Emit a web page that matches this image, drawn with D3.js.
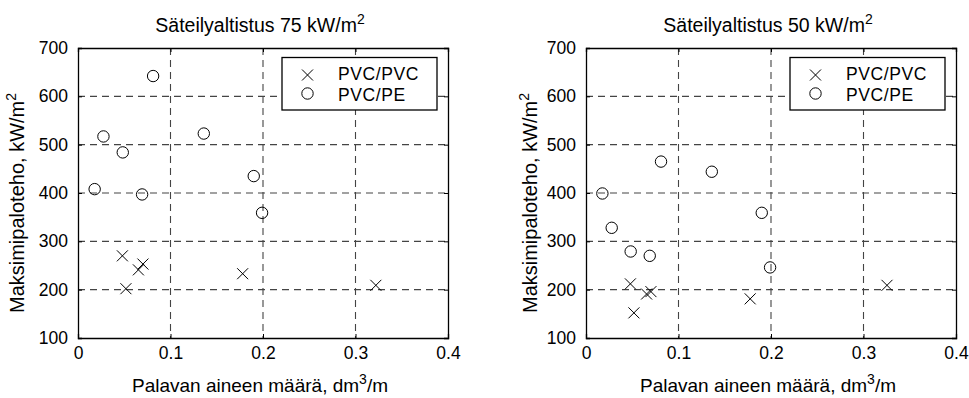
<!DOCTYPE html>
<html><head><meta charset="utf-8">
<script src="https://cdn.jsdelivr.net/npm/d3@7"></script>
<style>
body{margin:0;background:#fff;}
text{font-family:"Liberation Sans",Arial,Helvetica,sans-serif;fill:#000;}
</style></head>
<body>
<svg id="chart" width="969" height="398"></svg>
<script>
// ---- data ----
const xTicks = [0, 0.1, 0.2, 0.3, 0.4];
const yTicks = [100, 200, 300, 400, 500, 600, 700];
const seriesNames = ["PVC/PVC", "PVC/PE"];
const titles75 = "Säteilyaltistus 75 kW/m";
const titles50 = "Säteilyaltistus 50 kW/m";

// 75 kW/m2
const pvcpvc75_x = [0.048, 0.0518, 0.0653, 0.0702, 0.178, 0.322];
const pvcpvc75_y = [270, 202, 241, 253, 233, 209];
const pvcpe75_x = [0.018, 0.0275, 0.0484, 0.0693, 0.0812, 0.136, 0.190, 0.199];
const pvcpe75_y = [408, 517, 484, 397, 642, 523, 435, 359];

// 50 kW/m2
const pvcpvc50_x = [0.048, 0.0518, 0.0655, 0.0702, 0.1775, 0.3254];
const pvcpvc50_y = [212, 152, 191, 196, 181, 209];
const pvcpe50_x = [0.0177, 0.0278, 0.0483, 0.0689, 0.0811, 0.136, 0.190, 0.199];
const pvcpe50_y = [399, 328, 279, 270, 465, 444, 359, 246];

const svg = d3.select("#chart");
const crossPath = "M-5.5,-5.5L5.5,5.5M-5.5,5.5L5.5,-5.5";

function panel(left, data, title, ylabX) {
  const W = 370, top = 48, H = 290;
  const x = d3.scaleLinear().domain([0, 0.4]).range([left, left + W]);
  const y = d3.scaleLinear().domain([100, 700]).range([top + H, top]);
  const g = svg.append("g");

  // grid
  g.append("g").selectAll("line").data(xTicks.slice(1, -1)).join("line")
    .attr("x1", d => x(d)).attr("x2", d => x(d)).attr("y1", top).attr("y2", top + H)
    .attr("stroke", "#444").attr("stroke-width", 1.1).attr("stroke-dasharray", "7,5");
  g.append("g").selectAll("line").data(yTicks.slice(1, -1)).join("line")
    .attr("y1", d => y(d)).attr("y2", d => y(d)).attr("x1", left).attr("x2", left + W)
    .attr("stroke", "#444").attr("stroke-width", 1.1).attr("stroke-dasharray", "7,5");

  // axes
  const xa = g.append("g").attr("transform", `translate(0,${top + H})`)
    .call(d3.axisBottom(x).tickValues(xTicks).tickSize(-4).tickPadding(9).tickFormat(d => d === 0 ? "0" : d3.format(".1f")(d)));
  const xaTop = g.append("g").attr("transform", `translate(0,${top})`)
    .call(d3.axisTop(x).tickValues(xTicks).tickSize(-4).tickFormat(""));
  const ya = g.append("g").attr("transform", `translate(${left},0)`)
    .call(d3.axisLeft(y).tickValues(yTicks).tickSize(-4).tickPadding(10).tickFormat(d3.format("d")));
  const yaR = g.append("g").attr("transform", `translate(${left + W},0)`)
    .call(d3.axisRight(y).tickValues(yTicks).tickSize(-4).tickFormat(""));
  [xa, xaTop, ya, yaR].forEach(a => {
    a.select(".domain").attr("stroke", "#000").attr("stroke-width", 1.3);
    a.selectAll(".tick line").attr("stroke", "#000");
    a.selectAll("text").style("font-size", "17.5px").attr("fill", "#000");
  });

  // markers
  const pvc = data.pvcx.map((v, i) => [v, data.pvcy[i]]);
  const pe = data.pex.map((v, i) => [v, data.pey[i]]);
  g.append("g").selectAll("path").data(pvc).join("path")
    .attr("d", crossPath).attr("transform", d => `translate(${x(d[0])},${y(d[1])})`)
    .attr("fill", "none").attr("stroke", "#000").attr("stroke-width", 1);
  g.append("g").selectAll("circle").data(pe).join("circle")
    .attr("cx", d => x(d[0])).attr("cy", d => y(d[1])).attr("r", 5.7)
    .attr("fill", "none").attr("stroke", "#000").attr("stroke-width", 1);

  // legend
  const lg = g.append("g");
  const lx = left + 204, ly = 57.5;
  lg.append("rect").attr("x", lx).attr("y", ly).attr("width", 155).attr("height", 52.5)
    .attr("fill", "#fff").attr("stroke", "#000").attr("stroke-width", 1.3);
  lg.append("path").attr("d", crossPath).attr("transform", `translate(${lx + 25.5},${ly + 17.5})`)
    .attr("fill", "none").attr("stroke", "#000");
  lg.append("circle").attr("cx", lx + 25.5).attr("cy", ly + 36).attr("r", 5.7)
    .attr("fill", "none").attr("stroke", "#000");
  lg.append("text").attr("x", lx + 56).attr("y", ly + 22.5).style("font-size", "17.5px")
    .style("letter-spacing", "0.6px").text(seriesNames[0]);
  lg.append("text").attr("x", lx + 56).attr("y", ly + 43).style("font-size", "17.5px")
    .style("letter-spacing", "0.6px").text(seriesNames[1]);

  // title
  const t = g.append("text").attr("x", left + W / 2 - 3).attr("y", 32).attr("text-anchor", "middle")
    .style("font-size", "19.5px");
  t.append("tspan").text(title);
  t.append("tspan").attr("dy", -8).style("font-size", "14px").text("2");

  // x label
  const xl = g.append("text").attr("x", left + W / 2 - 3).attr("y", 392).attr("text-anchor", "middle")
    .style("font-size", "19px");
  xl.append("tspan").text("Palavan aineen määrä, dm");
  xl.append("tspan").attr("dy", -8).style("font-size", "14px").text("3");
  xl.append("tspan").attr("dy", 8).text("/m");

  // y label
  const yl = g.append("text").attr("transform", `translate(${ylabX},${top + H / 2 + 10}) rotate(-90)`)
    .attr("text-anchor", "middle").style("font-size", "20px");
  yl.append("tspan").text("Maksimipaloteho, kW/m");
  yl.append("tspan").attr("dy", -8).style("font-size", "14px").text("2");
}

panel(78, {pvcx: pvcpvc75_x, pvcy: pvcpvc75_y, pex: pvcpe75_x, pey: pvcpe75_y}, titles75, 24);
panel(586, {pvcx: pvcpvc50_x, pvcy: pvcpvc50_y, pex: pvcpe50_x, pey: pvcpe50_y}, titles50, 537);
</script>
</body></html>
